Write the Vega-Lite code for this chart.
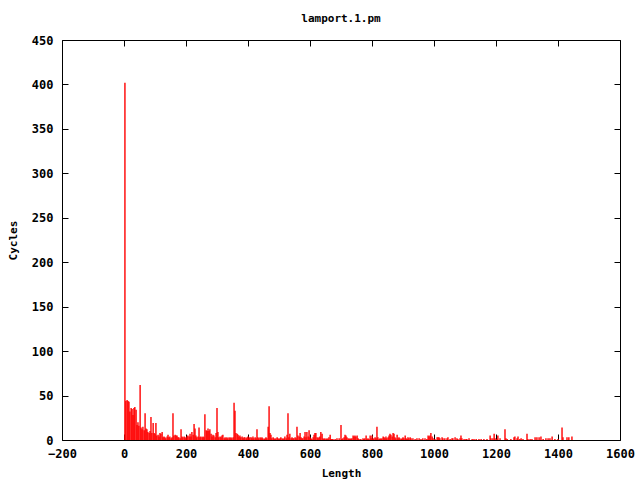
{
  "$schema": "https://vega.github.io/schema/vega-lite/v6.json",
  "width": 558,
  "height": 400,
  "autosize": {"type": "none"},
  "padding": {"left": 62, "top": 40, "right": 20, "bottom": 40},
  "background": "white",
  "title": {"text": "lamport.1.pm", "font": "DejaVu Sans Mono", "fontSize": 11, "fontWeight": "bold", "color": "black", "offset": 10, "anchor": "middle"},
  "config": {
    "view": {"stroke": "black", "strokeWidth": 1},
    "axis": {
      "labelFont": "DejaVu Sans Mono", "labelFontSize": 12, "labelFontWeight": "bold", "labelColor": "black",
      "titleFont": "DejaVu Sans Mono", "titleFontSize": 11, "titleFontWeight": "bold", "titleColor": "black",
      "grid": false, "domain": false, "tickColor": "black", "tickSize": -6, "tickWidth": 1, "format": "d"
    }
  },
  "datasets": {
    "d": [
{"l":3,"c":402},{"l":6,"c":44},{"l":10,"c":45},{"l":13,"c":44},{"l":16,"c":43},{"l":19,"c":32},{"l":23,"c":36},{"l":26,"c":35},{"l":29,"c":28},{"l":32,"c":36},{"l":35,"c":37},{"l":39,"c":34},{"l":42,"c":17},{"l":45,"c":20},{"l":48,"c":16},{"l":52,"c":62},{"l":55,"c":14},{"l":58,"c":12},{"l":61,"c":15},{"l":65,"c":11},{"l":68,"c":30},{"l":71,"c":13},{"l":74,"c":12},{"l":77,"c":9},{"l":81,"c":8},{"l":84,"c":10},{"l":87,"c":26},{"l":90,"c":8},{"l":94,"c":19},{"l":97,"c":8},{"l":100,"c":7},{"l":103,"c":19},{"l":106,"c":5},{"l":110,"c":6},{"l":113,"c":4},{"l":116,"c":8},{"l":119,"c":7},{"l":123,"c":9},{"l":126,"c":3},{"l":129,"c":4},{"l":132,"c":3},{"l":135,"c":2},{"l":139,"c":4},{"l":142,"c":6},{"l":145,"c":3},{"l":148,"c":4},{"l":152,"c":2},{"l":155,"c":3},{"l":158,"c":30},{"l":161,"c":5},{"l":165,"c":6},{"l":168,"c":5},{"l":171,"c":5},{"l":174,"c":3},{"l":177,"c":3},{"l":181,"c":2},{"l":184,"c":12},{"l":187,"c":4},{"l":190,"c":3},{"l":194,"c":4},{"l":197,"c":3},{"l":200,"c":2},{"l":203,"c":4},{"l":206,"c":5},{"l":210,"c":4},{"l":213,"c":7},{"l":216,"c":4},{"l":219,"c":9},{"l":223,"c":6},{"l":226,"c":18},{"l":229,"c":13},{"l":232,"c":5},{"l":235,"c":3},{"l":239,"c":4},{"l":242,"c":14},{"l":245,"c":3},{"l":248,"c":4},{"l":252,"c":3},{"l":255,"c":4},{"l":258,"c":3},{"l":261,"c":29},{"l":265,"c":11},{"l":268,"c":10},{"l":271,"c":13},{"l":274,"c":10},{"l":277,"c":12},{"l":281,"c":7},{"l":284,"c":4},{"l":287,"c":6},{"l":290,"c":5},{"l":294,"c":3},{"l":297,"c":8},{"l":300,"c":36},{"l":303,"c":9},{"l":306,"c":3},{"l":310,"c":4},{"l":313,"c":3},{"l":316,"c":5},{"l":319,"c":6},{"l":323,"c":2},{"l":326,"c":3},{"l":329,"c":2},{"l":332,"c":3},{"l":335,"c":2},{"l":339,"c":3},{"l":342,"c":2},{"l":345,"c":3},{"l":348,"c":2},{"l":352,"c":3},{"l":355,"c":42},{"l":358,"c":33},{"l":361,"c":8},{"l":365,"c":7},{"l":368,"c":6},{"l":371,"c":4},{"l":374,"c":5},{"l":377,"c":3},{"l":381,"c":4},{"l":384,"c":2},{"l":387,"c":3},{"l":390,"c":3},{"l":394,"c":2},{"l":397,"c":3},{"l":400,"c":4},{"l":403,"c":2},{"l":406,"c":3},{"l":410,"c":3},{"l":413,"c":2},{"l":416,"c":4},{"l":419,"c":2},{"l":423,"c":3},{"l":426,"c":2},{"l":429,"c":12},{"l":432,"c":3},{"l":435,"c":2},{"l":439,"c":3},{"l":442,"c":2},{"l":445,"c":3},{"l":448,"c":2},{"l":452,"c":1},{"l":455,"c":2},{"l":458,"c":3},{"l":461,"c":2},{"l":465,"c":15},{"l":468,"c":38},{"l":471,"c":8},{"l":474,"c":6},{"l":477,"c":2},{"l":481,"c":3},{"l":484,"c":2},{"l":487,"c":1},{"l":490,"c":2},{"l":494,"c":3},{"l":497,"c":2},{"l":500,"c":1},{"l":503,"c":2},{"l":506,"c":3},{"l":510,"c":2},{"l":513,"c":1},{"l":516,"c":2},{"l":519,"c":4},{"l":523,"c":2},{"l":526,"c":6},{"l":529,"c":30},{"l":532,"c":3},{"l":535,"c":7},{"l":539,"c":2},{"l":542,"c":3},{"l":545,"c":2},{"l":548,"c":2},{"l":552,"c":3},{"l":555,"c":2},{"l":558,"c":15},{"l":561,"c":5},{"l":565,"c":4},{"l":568,"c":8},{"l":571,"c":3},{"l":574,"c":2},{"l":577,"c":2},{"l":581,"c":4},{"l":584,"c":9},{"l":587,"c":3},{"l":590,"c":9},{"l":594,"c":4},{"l":597,"c":11},{"l":600,"c":3},{"l":603,"c":2},{"l":606,"c":1},{"l":610,"c":3},{"l":613,"c":6},{"l":616,"c":8},{"l":619,"c":8},{"l":623,"c":3},{"l":626,"c":2},{"l":629,"c":3},{"l":632,"c":4},{"l":635,"c":9},{"l":639,"c":7},{"l":642,"c":2},{"l":645,"c":1},{"l":648,"c":2},{"l":652,"c":1},{"l":655,"c":2},{"l":658,"c":1},{"l":661,"c":3},{"l":665,"c":6},{"l":668,"c":1},{"l":671,"c":1},
{"l":674,"c":1},{"l":681,"c":1},{"l":687,"c":2},{"l":694,"c":2},{"l":700,"c":17},{"l":703,"c":1},{"l":706,"c":2},{"l":710,"c":3},{"l":713,"c":6},{"l":716,"c":5},{"l":719,"c":3},{"l":723,"c":2},{"l":726,"c":1},{"l":729,"c":2},{"l":732,"c":1},{"l":735,"c":2},{"l":739,"c":5},{"l":742,"c":4},{"l":745,"c":5},{"l":748,"c":4},{"l":752,"c":5},{"l":755,"c":2},{"l":758,"c":1},{"l":764,"c":1},{"l":771,"c":2},{"l":774,"c":1},{"l":777,"c":2},{"l":781,"c":5},{"l":784,"c":1},{"l":787,"c":2},{"l":790,"c":1},{"l":794,"c":5},{"l":797,"c":2},{"l":800,"c":5},{"l":803,"c":1},{"l":806,"c":2},{"l":810,"c":3},{"l":813,"c":2},{"l":816,"c":15},{"l":819,"c":3},{"l":823,"c":1},{"l":826,"c":2},{"l":829,"c":1},{"l":832,"c":2},{"l":836,"c":4},{"l":839,"c":3},{"l":842,"c":2},{"l":845,"c":4},{"l":848,"c":2},{"l":852,"c":3},{"l":855,"c":5},{"l":858,"c":7},{"l":861,"c":6},{"l":865,"c":4},{"l":868,"c":8},{"l":871,"c":7},{"l":874,"c":3},{"l":877,"c":2},{"l":881,"c":6},{"l":884,"c":2},{"l":887,"c":3},{"l":890,"c":2},{"l":894,"c":1},{"l":897,"c":2},{"l":900,"c":3},{"l":903,"c":2},{"l":907,"c":5},{"l":910,"c":2},{"l":913,"c":1},{"l":916,"c":3},{"l":919,"c":2},{"l":923,"c":3},{"l":926,"c":2},{"l":932,"c":2},{"l":939,"c":1},{"l":945,"c":2},{"l":952,"c":2},{"l":958,"c":1},{"l":964,"c":2},{"l":971,"c":2},{"l":977,"c":1},{"l":981,"c":5},{"l":984,"c":4},{"l":987,"c":5},{"l":990,"c":8},{"l":994,"c":4},{"l":997,"c":2},{"l":1003,"c":1},{"l":1010,"c":3},{"l":1013,"c":3},{"l":1016,"c":3},{"l":1019,"c":2},{"l":1026,"c":3},{"l":1029,"c":2},{"l":1035,"c":2},{"l":1042,"c":2},{"l":1045,"c":3},{"l":1052,"c":1},{"l":1058,"c":2},{"l":1061,"c":2},{"l":1068,"c":3},{"l":1074,"c":2},{"l":1077,"c":1},{"l":1084,"c":2},{"l":1087,"c":5},{"l":1090,"c":2},{"l":1097,"c":1},{"l":1103,"c":1},{"l":1106,"c":1},{"l":1113,"c":2},{"l":1123,"c":1},{"l":1129,"c":1},{"l":1136,"c":1},{"l":1145,"c":1},{"l":1152,"c":1},{"l":1161,"c":1},{"l":1171,"c":1},{"l":1181,"c":5},{"l":1184,"c":2},{"l":1190,"c":2},{"l":1194,"c":7},{"l":1197,"c":2},{"l":1203,"c":1},{"l":1206,"c":5},{"l":1213,"c":2},{"l":1229,"c":12},{"l":1232,"c":2},{"l":1236,"c":1},{"l":1248,"c":1},{"l":1258,"c":3},{"l":1261,"c":4},{"l":1268,"c":2},{"l":1271,"c":4},{"l":1277,"c":1},{"l":1281,"c":2},{"l":1287,"c":1},{"l":1300,"c":7},{"l":1303,"c":1},{"l":1310,"c":1},{"l":1316,"c":1},{"l":1326,"c":3},{"l":1332,"c":3},{"l":1339,"c":3},{"l":1345,"c":4},{"l":1352,"c":1},{"l":1361,"c":2},{"l":1368,"c":2},{"l":1374,"c":2},{"l":1381,"c":4},{"l":1390,"c":1},{"l":1400,"c":1},{"l":1413,"c":14},{"l":1416,"c":3},{"l":1429,"c":3},{"l":1435,"c":3},{"l":1445,"c":4}
    ]
  },
  "data": {"name": "d"},
  "resolve": {"axis": {"x": "independent", "y": "independent"}},
  "layer": [
    {
      "mark": {"type": "rule", "color": "#ff0000", "strokeWidth": 1.4},
      "encoding": {
        "x": {"field": "l", "type": "quantitative", "scale": {"domain": [-200, 1600], "nice": false, "zero": false},
              "axis": {"orient": "bottom", "title": "Length", "values": [-200,0,200,400,600,800,1000,1200,1400,1600], "labelPadding": 14, "titlePadding": 8, "labelFlush": false, "labelOverlap": false}},
        "y": {"field": "c", "type": "quantitative", "scale": {"domain": [0, 450], "nice": false},
              "axis": {"orient": "left", "title": "Cycles", "values": [0,50,100,150,200,250,300,350,400,450], "labelPadding": 15, "titlePadding": 13, "labelFlush": false, "labelOverlap": false}},
        "y2": {"datum": 0}
      }
    },
    {
      "mark": {"type": "rule", "opacity": 0},
      "encoding": {
        "x": {"field": "l", "type": "quantitative", "scale": {"domain": [-200, 1600], "nice": false, "zero": false},
              "axis": {"orient": "top", "title": null, "labels": false, "values": [-200,0,200,400,600,800,1000,1200,1400,1600]}},
        "y": {"field": "c", "type": "quantitative", "scale": {"domain": [0, 450], "nice": false},
              "axis": {"orient": "right", "title": null, "labels": false, "values": [0,50,100,150,200,250,300,350,400,450]}},
        "y2": {"datum": 0}
      }
    }
  ]
}
